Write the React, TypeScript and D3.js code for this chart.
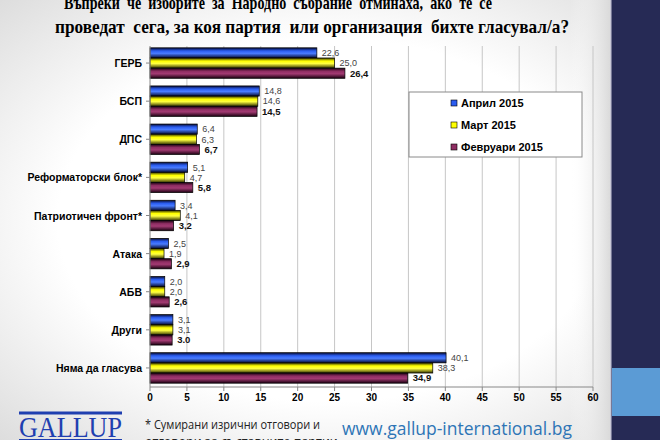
import React from "react";
import * as d3 from "d3";

const categories = [
  "ГЕРБ",
  "БСП",
  "ДПС",
  "Реформаторски блок*",
  "Патриотичен фронт*",
  "Атака",
  "АБВ",
  "Други",
  "Няма да гласува",
];
const seriesNames = ["Април 2015", "Март 2015", "Февруари 2015"];
const april = [22.6, 14.8, 6.4, 5.1, 3.4, 2.5, 2.0, 3.1, 40.1];
const march = [25.0, 14.6, 6.3, 4.7, 4.1, 1.9, 2.0, 3.1, 38.3];
const february = [26.4, 14.5, 6.7, 5.8, 3.2, 2.9, 2.6, 3.0, 34.9];
// label text as printed in the source (one label uses a dot)
const labelOverrides: Record<string, string> = { "2-7": "3.0" };
const xTicks = [0, 5, 10, 15, 20, 25, 30, 35, 40, 45, 50, 55, 60];
const titleLines = [
  "Въпреки  че  изборите  за  Народно  събрание  отминаха,  ако  те  се",
  "проведат  сега, за коя партия  или организация  бихте гласувал/а?",
];
const footnoteLines = ["* Сумирани изрични отговори и", "отговори за съставните партии"];

const seriesColors = [
  { dark: "#050a30", mid: "#2a5cf0", light: "#4a7cff" },
  { dark: "#303000", mid: "#ffff00", light: "#ffff40" },
  { dark: "#1a0010", mid: "#8e2d62", light: "#a23a72" },
];

export default function App() {
  const W = 660;
  const H = 440;
  const x = d3.scaleLinear().domain([0, 60]).range([150, 593]);
  const y = d3
    .scaleBand<string>()
    .domain(categories)
    .range([44, 387])
    .paddingInner(0.2)
    .paddingOuter(0.1);
  const inner = d3
    .scaleBand<number>()
    .domain([0, 1, 2])
    .range([0, y.bandwidth()]);
  const series = [april, march, february];
  const fmt = d3.format(".1f");
  const plotTop = 46;
  const plotBottom = 387;

  return (
    <svg
      width={W}
      height={H}
      style={{ position: "absolute", left: 0, top: 0 }}
      fontFamily="Arial, 'Liberation Sans', sans-serif"
    >
      <defs>
        <radialGradient id="bg" cx="0.5" cy="0.5" r="0.75">
          <stop offset="0.55" stopColor="#ffffff" />
          <stop offset="1" stopColor="#d8d8d8" />
        </radialGradient>
        <linearGradient id="edge" x1="0" x2="1" y1="0" y2="0">
          <stop offset="0" stopColor="#ffffff" stopOpacity="0" />
          <stop offset="1" stopColor="#d9d9d9" stopOpacity="1" />
        </linearGradient>
        {seriesColors.map((c, i) => (
          <linearGradient key={i} id={`bar${i}`} x1="0" x2="0" y1="0" y2="1">
            <stop offset="0" stopColor={c.dark} />
            <stop offset="0.3" stopColor={c.mid} />
            <stop offset="0.55" stopColor={c.light} />
            <stop offset="1" stopColor={c.dark} />
          </linearGradient>
        ))}
      </defs>

      {/* slide background */}
      <rect x={0} y={0} width={W} height={H} fill="url(#bg)" />
      <rect x={570} y={0} width={41} height={H} fill="url(#edge)" />
      <rect x={610} y={0} width={50} height={H} fill="#262a55" />
      <rect x={610} y={0} width={1.5} height={H} fill="#c8c8d8" />
      <rect x={612} y={368} width={48} height={48} fill="#5b9bd5" />

      {/* title */}
      <text
        x={64}
        y={9}
        fontFamily="'Liberation Serif', 'Times New Roman', serif"
        fontWeight="bold"
        fontSize={19}
        textLength={428}
        lengthAdjust="spacingAndGlyphs"
        fill="#000"
        style={{ whiteSpace: "pre" }}
      >
        {titleLines[0]}
      </text>
      <text
        x={55}
        y={33}
        fontFamily="'Liberation Serif', 'Times New Roman', serif"
        fontWeight="bold"
        fontSize={19}
        textLength={514}
        lengthAdjust="spacingAndGlyphs"
        fill="#000"
        style={{ whiteSpace: "pre" }}
      >
        {titleLines[1]}
      </text>

      {/* gridlines */}
      {xTicks.slice(1).map((t) => (
        <line
          key={t}
          x1={x(t)}
          x2={x(t)}
          y1={plotTop}
          y2={plotBottom}
          stroke="#c6c6c6"
          strokeWidth={1}
        />
      ))}

      {/* bars */}
      {categories.map((cat, ci) =>
        series.map((s, si) => {
          const by = (y(cat) as number) + (inner(si) as number);
          return (
            <rect
              key={`${ci}-${si}`}
              x={x(0)}
              y={by}
              width={x(s[ci]) - x(0)}
              height={inner.bandwidth()}
              fill={`url(#bar${si})`}
              stroke="#000"
              strokeWidth={0.7}
            />
          );
        })
      )}

      {/* value labels */}
      {categories.map((cat, ci) =>
        series.map((s, si) => {
          const by = (y(cat) as number) + (inner(si) as number) + inner.bandwidth() / 2;
          const key = `${si}-${ci}`;
          const txt = labelOverrides[key] ?? fmt(s[ci]).replace(".", ",");
          return (
            <text
              key={key}
              x={x(s[ci]) + 5}
              y={by + 3.3}
              fontSize={si === 2 ? 9.5 : 9}
              fontWeight={si === 2 ? "bold" : "normal"}
              fill={si === 2 ? "#111" : "#444"}
            >
              {txt}
            </text>
          );
        })
      )}

      {/* y axis */}
      <line x1={x(0)} x2={x(0)} y1={plotTop} y2={plotBottom} stroke="#888" strokeWidth={1} />
      {categories.map((cat) => {
        const cy = (y(cat) as number) + y.bandwidth() / 2;
        return (
          <g key={cat}>
            <line x1={x(0) - 4} x2={x(0)} y1={cy} y2={cy} stroke="#888" />
            <text
              x={142}
              y={cy + 4}
              textAnchor="end"
              fontSize={10.5}
              fontWeight="bold"
              fill="#000"
            >
              {cat}
            </text>
          </g>
        );
      })}

      {/* x axis */}
      <line x1={x(0)} x2={x(60)} y1={plotBottom} y2={plotBottom} stroke="#888" strokeWidth={1} />
      {xTicks.map((t) => (
        <g key={t}>
          <line x1={x(t)} x2={x(t)} y1={plotBottom} y2={plotBottom + 4} stroke="#888" />
          <text
            x={x(t)}
            y={plotBottom + 14}
            textAnchor="middle"
            fontSize={10}
            fontWeight="bold"
            fill="#000"
          >
            {t}
          </text>
        </g>
      ))}

      {/* legend */}
      <rect x={409} y={92} width={173} height={65} fill="#fff" stroke="#8a8a8a" strokeWidth={1} />
      {seriesNames.map((n, i) => {
        const ly = [103, 125, 147][i];
        return (
          <g key={n}>
            <rect
              x={451}
              y={ly - 3}
              width={6}
              height={6}
              fill={seriesColors[i].mid}
              stroke="#000"
              strokeWidth={0.6}
            />
            <text x={461} y={ly + 4} fontSize={11} fontWeight="bold" fill="#000">
              {n}
            </text>
          </g>
        );
      })}

      {/* GALLUP logo */}
      <rect x={19} y={411.5} width={103} height={3} fill="#1f3fb0" />
      <text
        x={19}
        y={437}
        fontFamily="'Liberation Serif', 'Times New Roman', serif"
        fontSize={29}
        textLength={103}
        lengthAdjust="spacingAndGlyphs"
        fill="#1f3fb0"
      >
        GALLUP
      </text>
      <rect x={19} y={439} width={103} height={3} fill="#1f3fb0" />

      {/* footnote */}
      <text x={145} y={429} fontSize={12.5} fontFamily="'Open Sans', 'Noto Sans', sans-serif" fill="#222" textLength={175} lengthAdjust="spacingAndGlyphs">
        {footnoteLines[0]}
      </text>
      <text x={145} y={446} fontSize={12.5} fontFamily="'Open Sans', 'Noto Sans', sans-serif" fill="#222">
        {footnoteLines[1]}
      </text>

      {/* url */}
      <text
        x={342}
        y={435}
        fontSize={18}
        fontFamily="'Open Sans', 'Noto Sans', sans-serif"
        fill="#2e75b6"
        textLength={230}
        lengthAdjust="spacingAndGlyphs"
      >
        www.gallup-international.bg
      </text>
    </svg>
  );
}
